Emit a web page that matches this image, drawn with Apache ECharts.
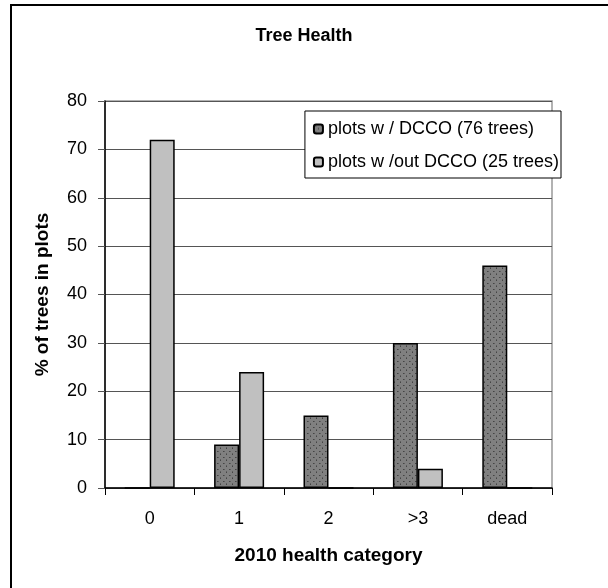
<!DOCTYPE html>
<html>
<head>
<meta charset="utf-8">
<script src="https://cdn.jsdelivr.net/npm/echarts@6/dist/echarts.min.js"></script>
<style>
html,body{margin:0;padding:0;background:#fff;}
#chart{width:608px;height:588px;}
</style>
</head>
<body>
<div id="chart"></div>
<script>
const categories = ['0', '1', '2', '>3', 'dead'];
const withDCCO = [0, 9, 15, 30, 46];
const withoutDCCO = [72, 24, 0, 4, 0];
const seriesNames = ['plots w / DCCO (76 trees)', 'plots w /out DCCO (25 trees)'];
const yTicks = [0, 10, 20, 30, 40, 50, 60, 70, 80];

const FONT = 'Liberation Sans, Arial, sans-serif';

function dotPattern() {
  const c = document.createElement('canvas');
  c.width = 6; c.height = 6;
  const g = c.getContext('2d');
  g.fillStyle = '#808080';
  g.fillRect(0, 0, 6, 6);
  g.fillStyle = '#454545';
  g.fillRect(1, 1, 1, 1);
  g.fillRect(4, 4, 1, 1);
  g.fillStyle = '#5e5e5e';
  g.fillRect(2, 1, 1, 1);
  g.fillRect(4, 3, 1, 1);
  return c;
}
const pattern = { image: dotPattern(), repeat: 'repeat' };

const chart = echarts.init(document.getElementById('chart'), null, { renderer: 'canvas' });
chart.setOption({
  backgroundColor: '#fff',
  animation: false,
  title: {
    text: 'Tree Health',
    left: 'center',
    top: 22,
    textStyle: { fontFamily: FONT, fontSize: 18, fontWeight: 'bold', color: '#000' }
  },
  legend: {
    orient: 'vertical',
    right: 47,
    top: 111,
    data: seriesNames,
    backgroundColor: '#fff',
    borderColor: '#000',
    borderWidth: 1,
    padding: [8, 2, 6, 8],
    itemWidth: 9,
    itemHeight: 9,
    itemGap: 13,
    textStyle: { fontFamily: FONT, fontSize: 18, color: '#000', lineHeight: 20 }
  },
  grid: {
    left: 105, right: 56, top: 101, bottom: 100,
    show: true, borderColor: '#999', borderWidth: 1.5, backgroundColor: 'transparent'
  },
  xAxis: {
    type: 'category',
    data: categories,
    name: '2010 health category',
    nameLocation: 'middle',
    nameGap: 58,
    nameTextStyle: { fontFamily: FONT, fontSize: 19, fontWeight: 'bold', color: '#000' },
    axisLine: { lineStyle: { color: '#000', width: 1.5 } },
    axisTick: { show: true, length: 7, lineStyle: { color: '#000', width: 1 } },
    axisLabel: { margin: 22, fontFamily: FONT, fontSize: 18, color: '#000' },
    splitLine: { show: false }
  },
  yAxis: {
    type: 'value',
    min: 0, max: 80, interval: 10,
    name: '% of trees in plots',
    nameLocation: 'middle',
    nameGap: 53,
    nameTextStyle: { fontFamily: FONT, fontSize: 19, fontWeight: 'bold', color: '#000' },
    axisLine: { show: true, lineStyle: { color: '#000', width: 1.5 } },
    axisTick: { show: true, length: 7, lineStyle: { color: '#555', width: 1 } },
    axisLabel: {
      margin: 18, fontFamily: FONT, fontSize: 18, color: '#000',
      formatter: v => (yTicks.indexOf(v) >= 0 ? String(v) : '')
    },
    splitLine: { show: true, lineStyle: { color: '#555', width: 1 } }
  },
  series: [
    {
      name: seriesNames[0],
      type: 'bar',
      data: withDCCO,
      barWidth: 25,
      barGap: '0%',
      itemStyle: { color: pattern, borderColor: '#000', borderWidth: 1.5 }
    },
    {
      name: seriesNames[1],
      type: 'bar',
      data: withoutDCCO,
      barWidth: 25,
      barGap: '0%',
      itemStyle: { color: '#c0c0c0', borderColor: '#000', borderWidth: 1.5 }
    }
  ],
  graphic: [
    {
      type: 'rect',
      shape: { x: 11, y: 5, width: 900, height: 900 },
      style: { fill: 'none', stroke: '#000', lineWidth: 2 },
      silent: true,
      z: 100
    }
  ]
});
</script>
</body>
</html>
